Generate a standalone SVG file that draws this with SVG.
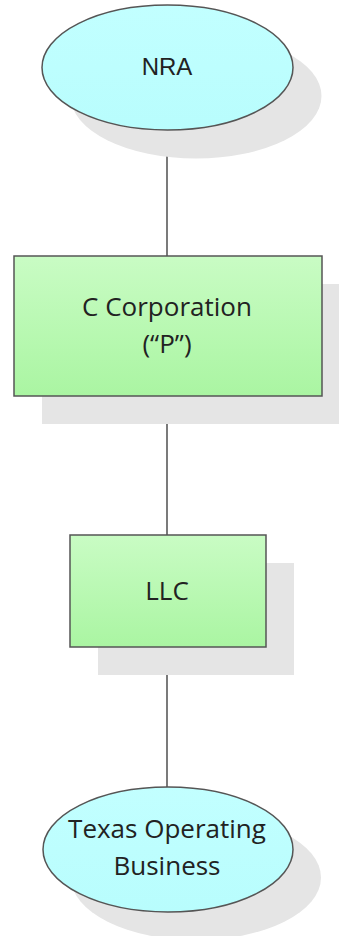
<svg xmlns="http://www.w3.org/2000/svg" width="339" height="936" viewBox="0 0 339 936">
<defs>
<linearGradient id="gGreen" x1="0" y1="0" x2="0" y2="1">
<stop offset="0" stop-color="#c9fcc4"/>
<stop offset="1" stop-color="#aaf5a2"/>
</linearGradient>
<linearGradient id="gCyan" x1="0" y1="0" x2="0" y2="1">
<stop offset="0" stop-color="#c2ffff"/>
<stop offset="1" stop-color="#b8fdfd"/>
</linearGradient>
</defs>
<style>
.shadow{fill:#e5e5e5;stroke:none}
.rectnode{fill:url(#gGreen);stroke:#555;stroke-width:1.5}
.ellnode{fill:url(#gCyan);stroke:#555;stroke-width:1.5}
.conn{stroke:#333;stroke-width:1.3;fill:none}
.lbl{font-family:"Open Sans","DejaVu Sans",sans-serif;font-size:26px;fill:#222;text-anchor:middle}
.lbl2{font-family:"Liberation Sans",Arial,sans-serif;font-size:24px;fill:#222;text-anchor:middle}
</style>
<rect width="339" height="936" fill="#fff"/>
<g id="connectors">
<line class="conn" x1="167" y1="130" x2="167" y2="256"/>
<line class="conn" x1="167" y1="396" x2="167" y2="535"/>
<line class="conn" x1="167" y1="647" x2="167" y2="787"/>
</g>
<g id="nra">
<ellipse class="shadow" cx="196" cy="96" rx="125.5" ry="62.5"/>
<ellipse class="ellnode" cx="167.5" cy="67.5" rx="125.5" ry="62.5"/>
<text class="lbl2" x="167" y="75">NRA</text>
</g>
<g id="ccorp">
<rect class="shadow" x="42" y="284" width="308" height="140"/>
<rect class="rectnode" x="14" y="256" width="308" height="140"/>
<text class="lbl" x="167" y="316">C Corporation</text>
<text class="lbl" x="167" y="353">(“P”)</text>
</g>
<g id="llc">
<rect class="shadow" x="98" y="563" width="196" height="112"/>
<rect class="rectnode" x="70" y="535" width="196" height="112"/>
<text class="lbl" x="167" y="600">LLC</text>
</g>
<g id="texas">
<ellipse class="shadow" cx="196" cy="877.5" rx="125" ry="62.5"/>
<ellipse class="ellnode" cx="168" cy="849.5" rx="125" ry="62.5"/>
<text class="lbl" x="167" y="838">Texas Operating</text>
<text class="lbl" x="167" y="875">Business</text>
</g>
</svg>
